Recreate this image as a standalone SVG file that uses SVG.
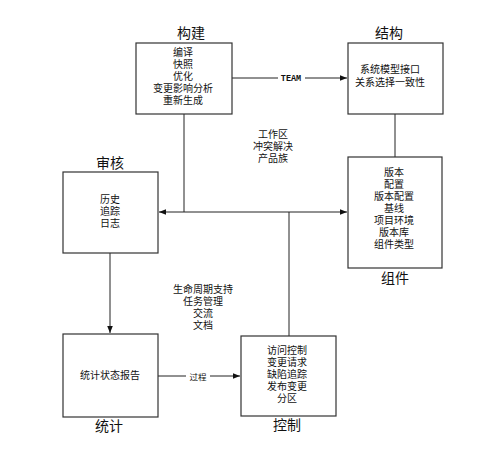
<svg xmlns="http://www.w3.org/2000/svg" width="500" height="454" viewBox="0 0 500 454">
<defs>
<style>
.box{fill:#fff;stroke:#333;stroke-width:1.2}
.ln{fill:none;stroke:#222;stroke-width:1}
.t{font-family:"Liberation Sans","Noto Sans CJK SC",sans-serif;font-size:10px;fill:#111;text-anchor:middle}
.h{font-family:"Liberation Sans","Noto Sans CJK SC",sans-serif;font-size:14px;fill:#111;text-anchor:middle}
.lb{font-family:"Liberation Mono","Noto Sans CJK SC",monospace;font-size:8.5px;font-weight:bold;fill:#111;text-anchor:middle}
</style>
<marker id="ah" viewBox="0 0 10 10" refX="10" refY="5" markerWidth="7" markerHeight="7" orient="auto-start-reverse" markerUnits="userSpaceOnUse">
<path d="M0,1 L10,5 L0,9 z" fill="#111"/>
</marker>
</defs>
<rect width="500" height="454" fill="#fff"/>
<g id="connectors">
<line class="ln" x1="232" y1="78" x2="347" y2="78" marker-end="url(#ah)"/>
<rect x="278" y="73" width="27" height="10" fill="#fff"/>
<text class="lb" x="291" y="81">TEAM</text>
<line class="ln" x1="184" y1="114" x2="184" y2="212"/>
<line class="ln" x1="159" y1="212" x2="347" y2="212" marker-start="url(#ah)" marker-end="url(#ah)"/>
<line class="ln" x1="395" y1="114" x2="395" y2="157"/>
<line class="ln" x1="289" y1="212" x2="289" y2="336"/>
<line class="ln" x1="110" y1="253" x2="110" y2="333" marker-end="url(#ah)"/>
<line class="ln" x1="158" y1="376" x2="240" y2="376" marker-end="url(#ah)"/>
<rect x="186" y="370" width="24" height="12" fill="#fff"/>
<text class="t" x="198" y="379.5" style="font-size:8.5px">过程</text>
</g>
<g id="n-gouj">
<rect class="box" x="136" y="43" width="96" height="71"/>
<text class="h" x="191" y="38">构建</text>
<text class="t" x="183" y="56">编译</text>
<text class="t" x="183" y="68">快照</text>
<text class="t" x="183" y="80">优化</text>
<text class="t" x="183" y="92">变更影响分析</text>
<text class="t" x="183" y="104">重新生成</text>
</g>
<g id="n-jieg">
<rect class="box" x="348" y="43" width="95" height="71"/>
<text class="h" x="389" y="38">结构</text>
<text class="t" x="390" y="73">系统模型接口</text>
<text class="t" x="390" y="86">关系选择一致性</text>
</g>
<g id="n-shenhe">
<rect class="box" x="63" y="172" width="95" height="81"/>
<text class="h" x="110" y="168">审核</text>
<text class="t" x="110" y="203">历史</text>
<text class="t" x="110" y="215">追踪</text>
<text class="t" x="110" y="227">日志</text>
</g>
<g id="n-zujian">
<rect class="box" x="348" y="157" width="94" height="111"/>
<text class="h" x="395" y="283">组件</text>
<text class="t" x="394" y="176">版本</text>
<text class="t" x="394" y="188">配置</text>
<text class="t" x="394" y="200">版本配置</text>
<text class="t" x="394" y="212">基线</text>
<text class="t" x="394" y="224">项目环境</text>
<text class="t" x="394" y="236">版本库</text>
<text class="t" x="394" y="248">组件类型</text>
</g>
<g id="n-mid1">
<text class="t" x="273" y="138">工作区</text>
<text class="t" x="273" y="150">冲突解决</text>
<text class="t" x="273" y="162">产品族</text>
</g>
<g id="n-mid2">
<text class="t" x="203" y="293">生命周期支持</text>
<text class="t" x="203" y="305">任务管理</text>
<text class="t" x="203" y="317">交流</text>
<text class="t" x="203" y="329">文档</text>
</g>
<g id="n-tongji">
<rect class="box" x="63" y="334" width="95" height="83"/>
<text class="h" x="109" y="431">统计</text>
<text class="t" x="110" y="379">统计状态报告</text>
</g>
<g id="n-kongzhi">
<rect class="box" x="241" y="336" width="95" height="80"/>
<text class="h" x="287" y="430">控制</text>
<text class="t" x="287" y="354">访问控制</text>
<text class="t" x="287" y="366">变更请求</text>
<text class="t" x="287" y="378">缺陷追踪</text>
<text class="t" x="287" y="390">发布变更</text>
<text class="t" x="287" y="402">分区</text>
</g>
</svg>
